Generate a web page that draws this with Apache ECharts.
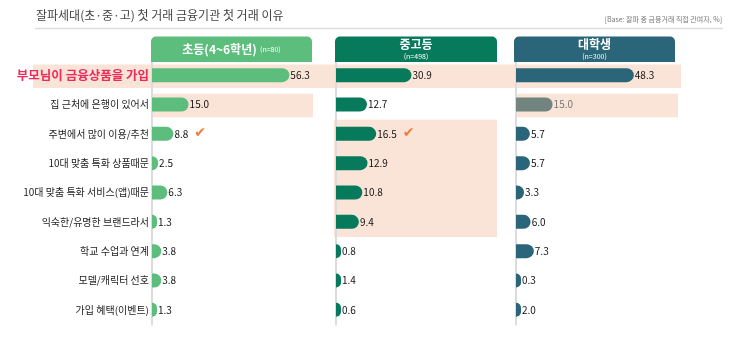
<!DOCTYPE html>
<html><head><meta charset="utf-8">
<script src="https://cdn.jsdelivr.net/npm/echarts@6/dist/echarts.min.js"></script>
<style>html,body{margin:0;padding:0;background:#fff}#c{width:730px;height:340px}</style>
</head><body><div id="c"></div>
<script>
// ---- data ----
const titleText = '잘파세대(초·중·고) 첫 거래 금융기관 첫 거래 이유';
const baseNote = '[Base: 잘파 중 금융거래 직접 관여자, %]';
const categories = ['부모님이 금융상품을 가입','집 근처에 은행이 있어서','주변에서 많이 이용/추천','10대 맞춤 특화 상품때문','10대 맞춤 특화 서비스(앱)때문','익숙한/유명한 브랜드라서','학교 수업과 연계','모델/캐릭터 선호','가입 혜택(이벤트)'];
const groupNames = ['초등(4~6학년)','중고등','대학생'];
const groupN = ['(n=80)','(n=498)','(n=300)'];
const elementary = [56.3,15.0,8.8,2.5,6.3,1.3,3.8,3.8,1.3];
const middleHigh = [30.9,12.7,16.5,12.9,10.8,9.4,0.8,1.4,0.6];
const university = [48.3,15.0,5.7,5.7,3.3,6.0,7.3,0.3,2.0];
const checkRows = [[2],[2],[]];   // rows marked with a check, per group
const grayRows = [[],[],[1]];     // rows drawn in gray, per group

// ---- style / layout ----
const FONT = '"Noto Sans CJK KR","Noto Sans",sans-serif';
const colors = ['#5cbd7d','#077a5c','#2b6579'];
const GRAY = '#72847f';
const PEACH = '#fae3d7';
const lefts = [152, 336, 516];
const W = 161, TOP = 60.5, H = 264, XMAX = 66;
const allData = [elementary, middleHigh, university];

const chart = echarts.init(document.getElementById('c'), null, {renderer:'canvas'});

const grids = lefts.map(l => ({left:l, top:TOP, width:W, height:H, containLabel:false}));
const xAxes = lefts.map((l,i) => ({gridIndex:i, type:'value', min:0, max:XMAX, show:false}));
const yAxes = lefts.map((l,i) => ({
  gridIndex:i, type:'category', data:categories, inverse:true, z:5,
  axisLine:{show:true, lineStyle:{color:'#dcdcdc', width:2}},
  axisTick:{show:false}, splitLine:{show:false},
  axisLabel: i===0 ? {
    show:true, margin:3, fontFamily:FONT, fontSize:10, color:'#222',
    formatter:(v,idx)=> idx===0 ? '{hl|'+v+'}' : v,
    rich:{hl:{fontFamily:FONT, fontSize:12.5, fontWeight:'bold', color:'#ee2a5c'}}
  } : {show:false}
}));

const series = allData.map((arr,g) => ({
  type:'bar', name:groupNames[g], xAxisIndex:g, yAxisIndex:g, z:10,
  barWidth:14, barMinHeight:5,
  data: arr.map((v,i) => {
    const gray = grayRows[g].includes(i);
    return {value:v, itemStyle:{color: gray ? GRAY : colors[g], borderRadius:[0,7,7,0]},
            label: gray ? {rich:{v:{color:'#777', fontFamily:FONT, fontSize:10}}} : undefined};
  }),
  label:{
    show:true, position:'right', distance:1,
    formatter:p => {
      const s = '{v|'+p.value.toFixed(1)+'}';
      return checkRows[g].includes(p.dataIndex) ? s+'{c|✔}' : s;
    },
    rich:{
      v:{fontFamily:FONT, fontSize:10, color:'#111'},
      c:{fontFamily:'DejaVu Sans', fontSize:14, color:'#ee7d3a', padding:[0,0,0,6]}
    }
  }
}));

chart.setOption({
  animation:false,
  backgroundColor:'#fff',
  grid:grids, xAxis:xAxes, yAxis:yAxes, series:series
});

// decorations computed from the axes
const band = H / categories.length;
const cy = i => chart.convertToPixel({yAxisIndex:0}, categories[i]);
const bgH = 23.5;
const rowRect = (i, x1, x2) => ({type:'rect', z:1, silent:true,
  shape:{x:x1, y:cy(i)-bgH/2+1, width:x2-x1, height:bgH}, style:{fill:PEACH}});
const headerX = [[151,312],[335,497],[514,675]];
const graphics = [
  rowRect(0, 33, 681),
  rowRect(1, 152, 313),
  rowRect(1, 516, 678),
  {type:'rect', z:1, silent:true,
   shape:{x:334, y:cy(2)-band/2+0.5, width:163, height:cy(5)-cy(2)+band}, style:{fill:PEACH}},
  {type:'text', z:20, left:36, top:9, style:{text:titleText, font:'12px '+FONT, fill:'#444'}},
  {type:'line', z:20, shape:{x1:35, y1:28.5, x2:723, y2:28.5}, style:{stroke:'#dcdcdc', lineWidth:1.5}},
  {type:'text', z:20, right:8, top:16, style:{text:baseNote, font:'7px '+FONT, fill:'#777'}}
];
headerX.forEach((hx,g) => {
  graphics.push({type:'rect', z:20, silent:true,
    shape:{x:hx[0], y:36.5, width:hx[1]-hx[0], height:25.5, r:[5,5,0,0]}, style:{fill:colors[g]}});
  const cx = (hx[0]+hx[1])/2;
  const txt = g===0 ? '{a|'+groupNames[g]+'} {b|'+groupN[g]+'}' : '{a|'+groupNames[g]+'}\n{b|'+groupN[g]+'}';
  graphics.push({type:'text', z:21, silent:true, x:cx, y:49.5,
    style:{text:txt, align:'center', verticalAlign:'middle', fill:'#fff',
      rich:{a:{fontFamily:FONT, fontSize:12, fontWeight:'bold', fill:'#fff', lineHeight:13},
            b:{fontFamily:FONT, fontSize:7, fill:'#fff', lineHeight:10}}}});
});
chart.setOption({graphic:graphics});
</script></body></html>
